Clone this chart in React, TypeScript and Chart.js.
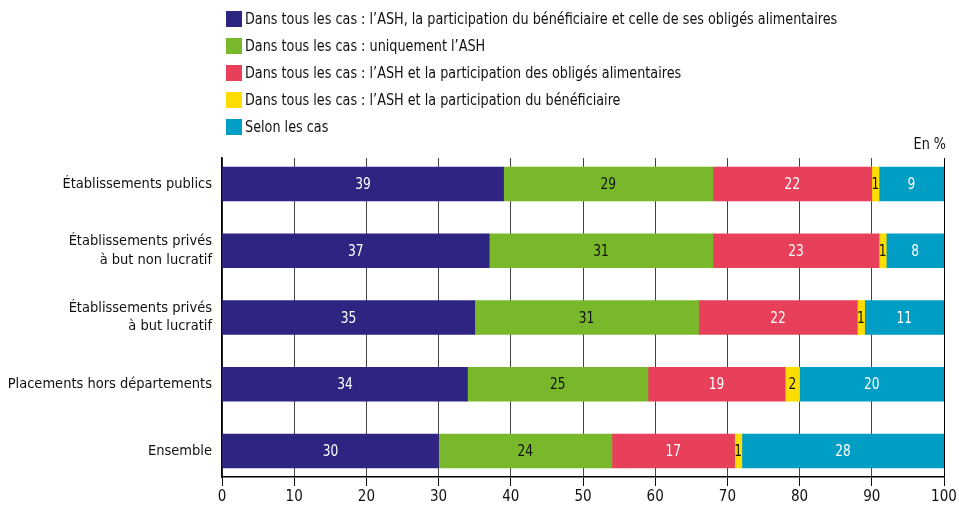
import React, { useEffect, useRef } from "react";
import { Chart, registerables } from "chart.js";

Chart.register(...registerables);

const categories: string[][] = [
  ["Établissements publics"],
  ["Établissements privés", "à but non lucratif"],
  ["Établissements privés", "à but lucratif"],
  ["Placements hors départements"],
  ["Ensemble"],
];

const seriesNames = [
  "Dans tous les cas : l’ASH, la participation du bénéficiaire et celle de ses obligés alimentaires",
  "Dans tous les cas : uniquement l’ASH",
  "Dans tous les cas : l’ASH et la participation des obligés alimentaires",
  "Dans tous les cas : l’ASH et la participation du bénéficiaire",
  "Selon les cas",
];

const ashBenefOblig = [39, 37, 35, 34, 30];
const ashOnly = [29, 31, 31, 25, 24];
const ashOblig = [22, 23, 22, 19, 17];
const ashBenef = [1, 1, 1, 2, 1];
const selonCas = [9, 8, 11, 20, 28];

const xTicks = [0, 10, 20, 30, 40, 50, 60, 70, 80, 90, 100];

const colors = ["#2e2583", "#78b82a", "#e8405a", "#ffdd00", "#009ec4"];
const labelColors = ["#ffffff", "#111111", "#ffffff", "#111111", "#ffffff"];

const FONT = "'DejaVu Sans Condensed', 'Liberation Sans Narrow', 'Roboto', sans-serif";

function condensedText(ctx: any, text: string, x: number, y: number, sx: number) {
  ctx.save();
  ctx.translate(x, y);
  ctx.scale(sx, 1);
  ctx.fillText(text, 0, 0);
  ctx.restore();
}

export default function App() {
  const ref = useRef<HTMLCanvasElement | null>(null);

  useEffect(() => {
    document.body.style.margin = "0";
    const canvas = ref.current;
    if (!canvas) return;
    const all = [ashBenefOblig, ashOnly, ashOblig, ashBenef, selonCas];

    const labelsPlugin = {
      id: "valueLabels",
      afterDatasetsDraw(chart: any) {
        const ctx = chart.ctx;
        ctx.save();
        ctx.font = `16px ${FONT}`;
        ctx.textAlign = "center";
        ctx.textBaseline = "middle";
        chart.data.datasets.forEach((ds: any, di: number) => {
          const meta = chart.getDatasetMeta(di);
          meta.data.forEach((el: any, i: number) => {
            const v = all[di][i];
            const cx = (el.x + el.base) / 2;
            ctx.fillStyle = labelColors[di];
            condensedText(ctx, String(v), cx, el.y + 1, 0.85);
          });
        });
        ctx.restore();
      },
    };

    const legendPlugin = {
      id: "customLegend",
      afterDraw(chart: any) {
        const ctx = chart.ctx;
        ctx.save();
        ctx.font = `16px ${FONT}`;
        ctx.textBaseline = "middle";
        ctx.textAlign = "left";
        seriesNames.forEach((name, i) => {
          const cy = 19 + i * 27;
          ctx.fillStyle = colors[i];
          ctx.fillRect(226, cy - 8, 16, 16);
          ctx.fillStyle = "#111111";
          condensedText(ctx, name, 245, cy + 1, 0.89);
        });
        ctx.textAlign = "right";
        ctx.textBaseline = "alphabetic";
        condensedText(ctx, "En %", chart.chartArea.right + 2, 149, 0.89);
        ctx.restore();
      },
    };

    const chart = new Chart(canvas, {
      type: "bar",
      data: {
        datasets: all.map((arr, di) => ({
          label: seriesNames[di],
          data: arr.map((v, i) => ({ x: v, y: i })),
          backgroundColor: colors[di],
          borderWidth: 0,
          barThickness: 34,
        })),
      },
      options: {
        indexAxis: "y",
        animation: false,
        responsive: false,
        maintainAspectRatio: false,
        layout: { padding: { top: 158, right: 15, left: 0, bottom: 0 } },
        plugins: {
          legend: { display: false },
          tooltip: { enabled: false },
        },
        scales: {
          x: {
            type: "linear",
            stacked: true,
            min: 0,
            max: 100,
            afterBuildTicks: (scale: any) => {
              scale.ticks = xTicks.map((v) => ({ value: v }));
            },
            afterFit: (scale: any) => {
              scale.height = 29;
            },
            grid: {
              color: (c: any) => (c.tick && c.tick.value === 100 ? "#000000" : "#444444"),
              lineWidth: 1,
              tickLength: 9,
              tickColor: "#111111",
            },
            border: { color: "#000000", width: 1.5 },
            ticks: {
              padding: 2,
              color: "#111111",
              font: { family: FONT, size: 15 },
            },
          },
          y: {
            type: "linear",
            stacked: true,
            reverse: true,
            offset: false,
            min: -0.39,
            max: 4.39,
            afterBuildTicks: (scale: any) => {
              scale.ticks = categories.map((_, i) => ({ value: i }));
            },
            afterFit: (scale: any) => {
              scale.width = 222;
            },
            grid: { display: true, drawOnChartArea: false, drawTicks: false, offset: false },
            border: { color: "#000000", width: 1.5 },
            ticks: {
              padding: 10,
              color: "#111111",
              font: { family: FONT, size: 14.5, lineHeight: 1.25 },
              callback: (v: any) => {
                const idx = Math.round(Number(v));
                return categories[idx] ?? "";
              },
            },
          },
        },
      },
      plugins: [labelsPlugin, legendPlugin],
    } as any);

    return () => chart.destroy();
  }, []);

  return (
    <div style={{ width: 959, height: 506, background: "#ffffff" }}>
      <canvas ref={ref} width={959} height={506} />
    </div>
  );
}
